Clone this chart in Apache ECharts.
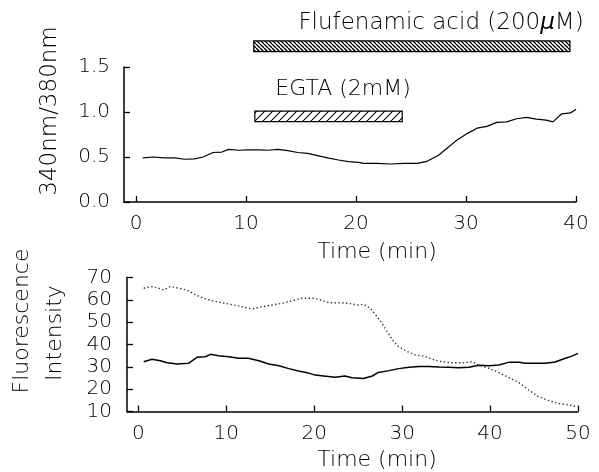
<!DOCTYPE html>
<html>
<head>
<meta charset="utf-8">
<script src="https://cdn.jsdelivr.net/npm/echarts@6/dist/echarts.min.js"></script>
<style>
	html, body { margin: 0; padding: 0; background: #fff; }
	#chart { width: 599px; height: 472px; }
</style>
</head>
<body>
<div id="chart"></div>
<script>
	// upper panel: 340/380 ratio
	var ratioTime = [0.6, 1.6, 2.5, 3.5, 4.4, 5.3, 6.1, 7.0, 7.8, 8.4, 9.3, 10.2, 11.1, 12.0, 12.9, 13.8, 14.7, 15.6, 16.5, 17.4,
		18.4, 19.3, 20.2, 20.7, 21.9, 23.1, 24.4, 25.6, 26.5, 27.5, 28.3, 29.2, 30.1, 31.0, 31.9, 32.8, 33.7, 34.6, 35.5, 36.4,
		37.3, 37.9, 38.7, 39.5, 40.0];
	var ratioValue = [0.49, 0.50, 0.49, 0.49, 0.475, 0.48, 0.50, 0.55, 0.555, 0.585, 0.575, 0.58, 0.58, 0.575, 0.585, 0.57, 0.55, 0.54, 0.515, 0.49,
		0.467, 0.448, 0.44, 0.43, 0.43, 0.422, 0.43, 0.43, 0.455, 0.52, 0.60, 0.69, 0.76, 0.82, 0.84, 0.885, 0.89, 0.925, 0.94, 0.92,
		0.91, 0.89, 0.98, 0.99, 1.03];

	// treatment bars (upper panel)
	var barNames = ['Flufenamic acid (200μM)', 'EGTA (2mM)'];
	var barStart = [10.7, 10.8];
	var barEnd = [39.45, 24.2];
	var barLow = [1.67, 0.892];
	var barHigh = [1.79, 1.01];

	// lower panel: fluorescence intensity
	var solidTime = [0.6, 1.55, 2.5, 3.26, 4.4, 5.7, 6.7, 7.6, 8.2, 9.1, 10.3, 11.4, 12.5, 13.7, 14.8, 16.0, 17.1, 18.2, 19.2, 20.1,
		21.3, 22.4, 23.5, 24.3, 25.6, 26.6, 27.3, 28.5, 29.6, 30.8, 31.9, 33.0, 34.2, 35.3, 36.4, 37.6, 38.7, 39.9, 41.0, 42.1,
		43.3, 44.0, 45.2, 46.3, 47.4, 48.4, 49.3, 50.0];
	var solidValue = [32.3, 33.4, 32.7, 31.8, 31.3, 31.6, 34.3, 34.5, 35.6, 35.0, 34.5, 33.8, 33.8, 32.7, 31.3, 30.5, 29.2, 28.1, 27.4, 26.3,
		25.8, 25.3, 25.9, 25.1, 24.8, 25.9, 27.5, 28.3, 29.2, 29.8, 30.1, 30.1, 29.9, 29.8, 29.6, 29.8, 30.7, 30.5, 30.8, 32.0,
		32.0, 31.6, 31.6, 31.6, 32.2, 33.6, 34.8, 36.0];
	var dotTime = [0.6, 1.55, 2.3, 2.9, 3.6, 4.6, 5.5, 6.5, 7.4, 8.4, 9.5, 10.7, 11.8, 12.9, 14.1, 15.2, 16.3, 17.5, 18.6, 19.8,
		20.5, 21.7, 22.8, 23.9, 24.9, 25.6, 26.4, 27.0, 27.7, 28.3, 28.9, 29.6, 30.6, 31.5, 32.5, 33.4, 34.5, 35.7, 36.8, 38.0,
		38.7, 39.9, 41.0, 42.1, 43.3, 44.4, 45.4, 46.5, 47.8, 49.0, 49.9];
	var dotValue = [65.2, 65.9, 65.2, 64.4, 65.9, 65.2, 64.4, 62.2, 60.7, 59.6, 58.7, 57.8, 56.9, 55.9, 56.9, 57.7, 58.4, 59.6, 60.7, 60.7,
		60.2, 58.7, 58.7, 58.4, 57.7, 58.0, 56.2, 53.2, 49.5, 45.7, 42.0, 39.0, 36.8, 35.3, 34.8, 33.4, 32.3, 31.8, 31.8, 32.3,
		30.8, 29.3, 27.4, 25.3, 22.9, 19.6, 16.9, 15.1, 13.6, 12.9, 12.1];

	var topTicks = [0, 10, 20, 30, 40];
	var bottomTicks = [0, 10, 20, 30, 40, 50];

	function pairs(xs, ys){
		var out = [];
		for(var i = 0; i < xs.length; i++)
			out.push([xs[i], ys[i]]);
		return out;
	}

	// small hatch tile (white ground, black stripes) used as a fill pattern
	function hatch(size, dir, width){
		var c = document.createElement('canvas');
		c.width = size;
		c.height = size;
		var ctx = c.getContext('2d');
		ctx.fillStyle = '#fff';
		ctx.fillRect(0, 0, size, size);
		ctx.strokeStyle = '#000';
		ctx.lineWidth = width;
		for(var k = -1; k <= 1; k++){
			ctx.beginPath();
			if(dir == '/'){
				ctx.moveTo(k * size, size);
				ctx.lineTo(k * size + size, 0);
			}
			else{
				ctx.moveTo(k * size, 0);
				ctx.lineTo(k * size + size, size);
			}
			ctx.stroke();
		}
		return c;
	}
	var patterns = [
		{ image: hatch(4, '\\', 1.3), repeat: 'repeat' },
		{ image: hatch(8, '/', 1.1), repeat: 'repeat' }
	];

	var font = 'DejaVu Sans';
	var weight = 200;
	var axisLine = { show: true, onZero: false, lineStyle: { color: '#000', width: 1.5 } };
	var axisTick = { show: true, inside: true, length: 6, lineStyle: { color: '#000', width: 1.3 } };
	var tickText = { fontSize: 20, color: '#000', fontFamily: font, fontWeight: weight };

	function label(text, x, y, size, rotated){
		return {
			type: 'text', x: x, y: y, rotation: rotated ? Math.PI / 2 : 0,
			style: {
				text: text, fontFamily: font, fontSize: size, fontWeight: weight, fill: '#000',
				align: 'center', verticalAlign: 'middle'
			}
		};
	}

	var chart = echarts.init(document.getElementById('chart'), null, { renderer: 'canvas' });

	var option = {
		animation: false,
		backgroundColor: '#fff',
		textStyle: { fontFamily: font, color: '#000' },
		grid: [
			{ left: 124, top: 67, width: 452, height: 135 },
			{ left: 127, top: 277.5, width: 451, height: 134 }
		],
		xAxis: [
			{
				gridIndex: 0, type: 'value', min: -1.1, max: 40,
				axisLine: axisLine,
				axisTick: Object.assign({ customValues: topTicks }, axisTick),
				axisLabel: Object.assign({ customValues: topTicks, margin: 12 }, tickText),
				splitLine: { show: false }
			},
			{
				gridIndex: 1, type: 'value', min: -1.3, max: 50,
				axisLine: axisLine,
				axisTick: Object.assign({ customValues: bottomTicks }, axisTick),
				axisLabel: Object.assign({ customValues: bottomTicks, margin: 12 }, tickText),
				splitLine: { show: false }
			}
		],
		yAxis: [
			{
				gridIndex: 0, type: 'value', min: 0, max: 1.5, interval: 0.5,
				axisLine: axisLine,
				axisTick: axisTick,
				axisLabel: Object.assign({
					margin: 14,
					formatter: function(v){ return v.toFixed(1); }
				}, tickText),
				splitLine: { show: false }
			},
			{
				gridIndex: 1, type: 'value', min: 10, max: 70, interval: 10,
				axisLine: axisLine,
				axisTick: axisTick,
				axisLabel: Object.assign({ margin: 15 }, tickText),
				splitLine: { show: false }
			}
		],
		series: [
			{
				type: 'line', xAxisIndex: 0, yAxisIndex: 0,
				data: pairs(ratioTime, ratioValue),
				showSymbol: false,
				lineStyle: { color: '#000', width: 1.2 }
			},
			{
				type: 'custom', xAxisIndex: 0, yAxisIndex: 0,
				data: barNames.map(function(n, i){ return [barStart[i], barEnd[i], barLow[i], barHigh[i]]; }),
				renderItem: function(params, api){
					var p0 = api.coord([api.value(0), api.value(3)]);
					var p1 = api.coord([api.value(1), api.value(2)]);
					return {
						type: 'rect',
						shape: { x: p0[0], y: p0[1], width: p1[0] - p0[0], height: p1[1] - p0[1] },
						style: { fill: patterns[params.dataIndex], stroke: '#000', lineWidth: 1.2 }
					};
				}
			},
			{
				type: 'line', xAxisIndex: 1, yAxisIndex: 1,
				data: pairs(dotTime, dotValue),
				showSymbol: false,
				lineStyle: { color: '#333', width: 1.4, type: [1.4, 2.4] }
			},
			{
				type: 'line', xAxisIndex: 1, yAxisIndex: 1,
				data: pairs(solidTime, solidValue),
				showSymbol: false,
				lineStyle: { color: '#000', width: 1.5 }
			}
		],
		graphic: [
			{
				type: 'text', x: 441, y: 23,
				style: {
					text: '{n|Flufenamic acid (200}{mu|μ}{n|M)}',
					align: 'center', verticalAlign: 'middle',
					rich: {
						n: { fontFamily: font, fontSize: 23, fontWeight: weight, fill: '#000' },
						mu: { fontFamily: '"DejaVu Sans ExtraLight", "DejaVu Sans"', fontSize: 23, fontWeight: weight, fontStyle: 'italic', fill: '#000' }
					}
				}
			},
			label(barNames[1], 343, 89, 22, false),
			label('340nm/380nm', 50, 111, 23, true),
			label('Time (min)', 377, 252, 22, false),
			label('Fluorescence', 22, 321, 22, true),
			label('Intensity', 55, 333, 22, true),
			label('Time (min)', 377, 460, 22, false)
		]
	};

	chart.setOption(option);
</script>
</body>
</html>
